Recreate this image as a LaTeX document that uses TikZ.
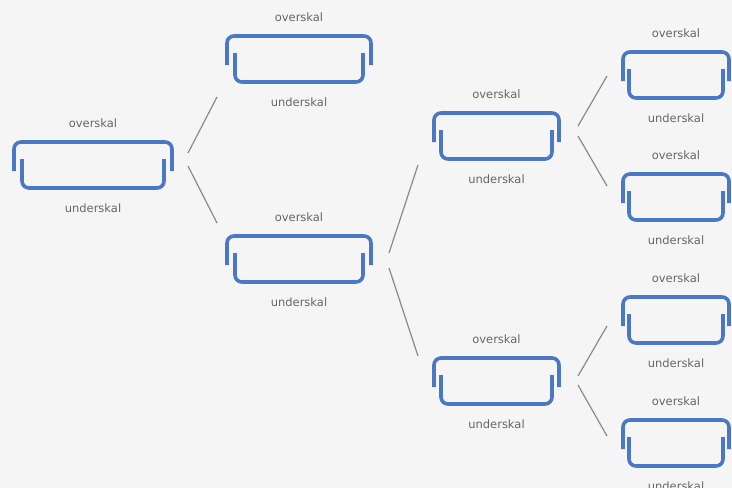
\documentclass[tikz,border=0pt]{standalone}
\usepackage{fontspec}
\setmainfont{DejaVu Sans}
\definecolor{bgc}{HTML}{F5F5F5}
\definecolor{bowlc}{HTML}{4A78C4}
\definecolor{txtc}{HTML}{666666}
\definecolor{linec}{HTML}{8A8A8A}
\tikzset{
  bowlline/.style={draw=bowlc,line width=3.6pt,rounded corners=7pt,line cap=butt},
  lbl/.style={text=txtc,font=\fontsize{11.5}{13}\selectfont,inner sep=0pt},
  conn/.style={draw=linec,line width=1.2pt}
}
\newcommand\bowl[5]{%
  \draw[bowlline] (#2,{#4+29}) -- (#2,#4) -- (#3,#4) -- (#3,{#4+29});
  \draw[bowlline] ({#2+#5},{#4+17}) -- ({#2+#5},{#4+46}) -- ({#3-#5},{#4+46}) -- ({#3-#5},{#4+17});
  \node[lbl] (#1o) at ({(#2+#3)/2},{#4-19}) {overskal};
  \node[lbl] (#1u) at ({(#2+#3)/2},{#4+66}) {underskal};
}
\begin{document}
\begin{tikzpicture}[x=1pt,y=-1pt]
\fill[bgc] (0,0) rectangle (732,488);
\useasboundingbox (0,0) rectangle (732,488);
\bowl{n1}{14}{172}{142}{8}
\bowl{n2}{227}{371}{36}{8}
\bowl{n3}{227}{371}{236}{8}
\bowl{n4}{434}{559}{113}{7}
\bowl{n5}{434}{559}{358}{7}
\bowl{l1}{623}{729}{52}{6}
\bowl{l2}{623}{729}{174}{6}
\bowl{l3}{623}{729}{297}{6}
\bowl{l4}{623}{729}{420}{6}
% connector end points
\coordinate (a1) at (188,153); \coordinate (b1) at (217,97);
\coordinate (a2) at (188,166); \coordinate (b2) at (217,223);
\coordinate (a3) at (389,253); \coordinate (b3) at (418,165);
\coordinate (a4) at (389,268); \coordinate (b4) at (418,356);
\coordinate (a5) at (578,126); \coordinate (b5) at (607,76);
\coordinate (a6) at (578,136); \coordinate (b6) at (607,186);
\coordinate (a7) at (578,376); \coordinate (b7) at (607,326);
\coordinate (a8) at (578,385); \coordinate (b8) at (607,436);
\foreach \i in {1,...,8} {\draw[conn] (a\i) -- (b\i);}
\end{tikzpicture}
\end{document}
